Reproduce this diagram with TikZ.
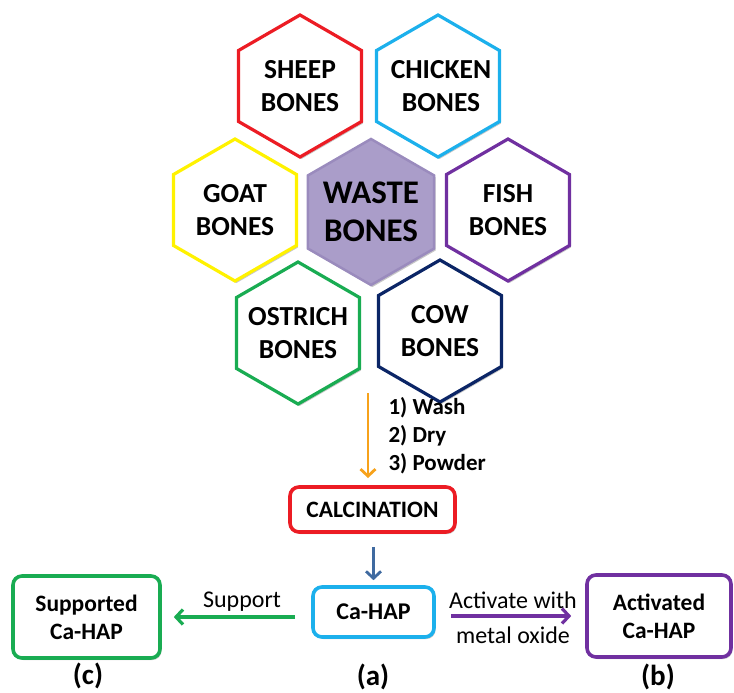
\documentclass[tikz,border=0pt]{standalone}
\usepackage{fontspec}
\setmainfont{Carlito}
\usetikzlibrary{shapes.geometric,arrows.meta,shadows}
\definecolor{cred}{HTML}{EC1C24}
\definecolor{cblue}{HTML}{1CB0EC}
\definecolor{cyellow}{HTML}{FFF200}
\definecolor{cpurple}{HTML}{7030A0}
\definecolor{cgreen}{HTML}{19AC52}
\definecolor{cnavy}{HTML}{0B2566}
\definecolor{corange}{HTML}{F7A21B}
\definecolor{csteel}{HTML}{3F6AA0}
\definecolor{wfill}{HTML}{AA9DC9}
\definecolor{wdraw}{HTML}{9A8BBD}
\begin{document}
\begin{tikzpicture}[x=1pt,y=-1pt,
  shad/.style={drop shadow={opacity=0.22,shadow xshift=1.5pt,shadow yshift=-2pt,fill=black}},
  hexa/.style={regular polygon,regular polygon sides=6,shape border rotate=30,
    minimum size=142pt,inner sep=0pt,line width=3.2pt,fill=white,shad},
  hextext/.style={align=center,inner sep=0pt,font=\fontsize{27.5}{33}\selectfont\bfseries},
  rbox/.style={rounded corners=9pt,line width=3.6pt,fill=white,shad,align=center,inner sep=0pt},
  arr/.style={line width=2.8pt,-{Straight Barb[length=7pt,width=15pt]}},
  lbl/.style={font=\fontsize{24}{28}\selectfont},
  tag/.style={font=\fontsize{29}{32}\selectfont\bfseries}
]
\useasboundingbox (0,0) rectangle (734,693);
% hexagons
\node[hexa,draw=cred] (sheep) at (300,86) {};
\node[hexa,draw=cblue] (chicken) at (438,86) {};
\node[hexa,draw=cyellow] (goat) at (235,210) {};
\node[hexa,draw=cpurple] (fish) at (508,210) {};
\node[hexa,draw=cgreen] (ostrich) at (298,333) {};
\node[hexa,draw=cnavy] (cow) at (440,331) {};
\node[hexa,draw=wdraw,fill=wfill,minimum size=146pt,line width=2.5pt] (waste) at (371,212) {};
\node[hextext] (sheept) at (sheep) {SHEEP\\BONES};
\node[hextext] (chickent) at ([xshift=3pt]chicken.center) {CHICKEN\\BONES};
\node[hextext] (goatt) at (goat) {GOAT\\BONES};
\node[hextext] (fisht) at (fish) {FISH\\BONES};
\node[hextext] (ostricht) at (ostrich) {OSTRICH\\BONES};
\node[hextext] (cowt) at (cow) {COW\\BONES};
\node[hextext,font=\fontsize{33}{38}\selectfont\bfseries] (wastet) at (waste) {WASTE\\BONES};
% process boxes
\node[rbox,draw=cred,minimum width=165pt,minimum height=45pt,
  font=\fontsize{23.5}{26}\selectfont\bfseries] (calc) at (372.5,509.5) {CALCINATION};
\node[rbox,draw=cblue,minimum width=121pt,minimum height=50pt,
  font=\fontsize{24}{28}\selectfont\bfseries] (ca) at (373.5,612) {Ca-HAP};
\node[rbox,draw=cgreen,minimum width=147pt,minimum height=82pt,
  font=\fontsize{23.5}{28}\selectfont\bfseries] (sup) at (86.5,617) {Supported\\Ca-HAP};
\node[rbox,draw=cpurple,minimum width=144pt,minimum height=82pt,
  font=\fontsize{23.5}{28}\selectfont\bfseries] (act) at (659,616) {Activated\\Ca-HAP};
% connectors
\coordinate (start) at (368,393);
\coordinate (calcin) at (368,487);
\draw[arr,draw=corange,shorten >=9pt] (start) -- (calcin);
\draw[arr,draw=csteel,shorten <=13pt,shorten >=5pt] (calc.south -| ca.north) -- (ca.north);
\draw[arr,draw=cgreen,line width=3.2pt,shorten <=16pt,shorten >=12pt] (ca.west |- sup.east) -- (sup.east);
\draw[arr,draw=cpurple,line width=3.2pt,shorten <=15pt,shorten >=14pt] (ca.east |- act.west) -- (act.west);
% labels
\node[anchor=west,align=left,font=\fontsize{23}{28}\selectfont\bfseries] (steps) at (385,436) {1) Wash\\2) Dry\\3) Powder};
\node[lbl] (supl) at (242,602) {Support};
\node[lbl] (actl1) at (513,600) {Activate with};
\node[lbl] (actl2) at (513,635) {metal oxide};
\node[tag] (tc) at (88,676) {(c)};
\node[tag] (ta) at (373,677) {(a)};
\node[tag] (tb) at (658,677) {(b)};
\end{tikzpicture}
\end{document}
